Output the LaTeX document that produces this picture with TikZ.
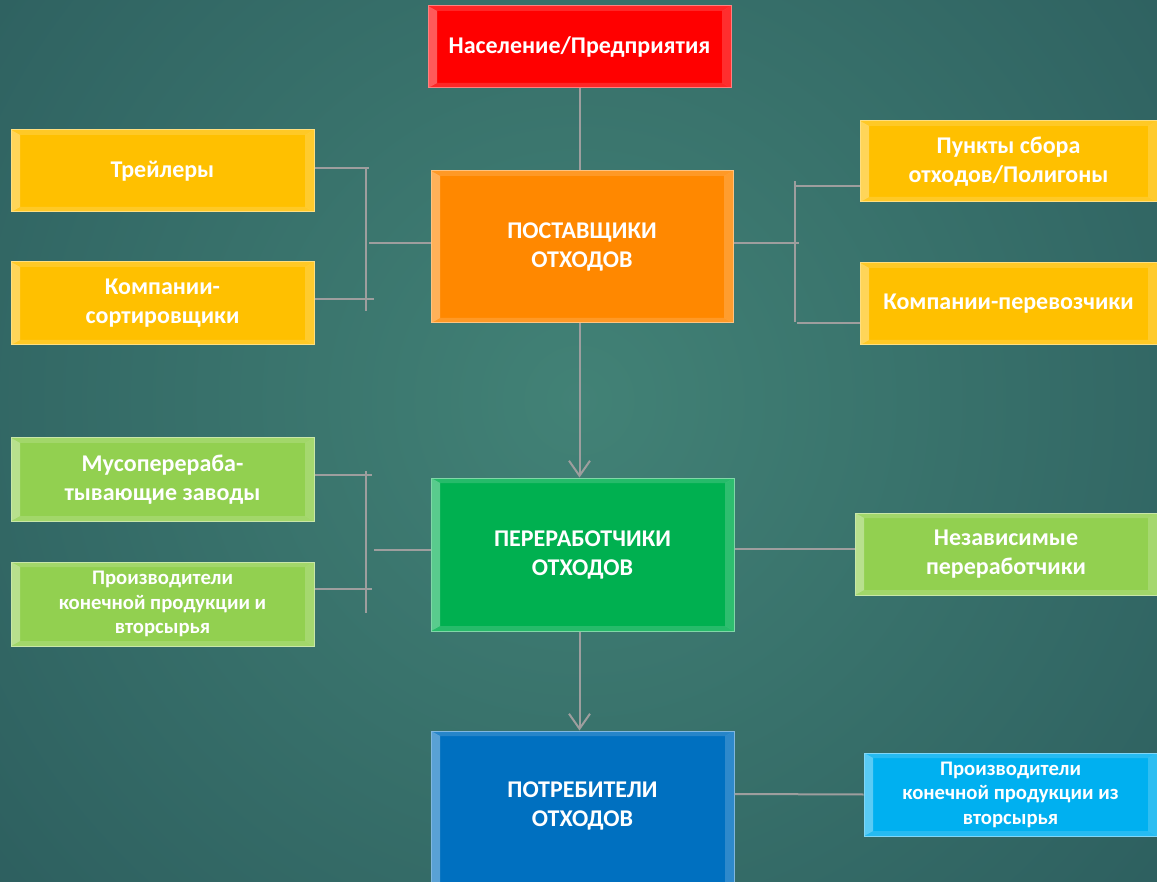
\documentclass[tikz,border=0pt]{standalone}
\usepackage{fontspec}
\setmainfont{Carlito}
\usetikzlibrary{arrows.meta}

\definecolor{bgin}{RGB}{66,130,118}
\definecolor{bgout}{RGB}{28,66,76}
\definecolor{linkgray}{RGB}{158,158,158}
\definecolor{cred}{RGB}{255,0,0}
\definecolor{corange}{RGB}{255,136,0}
\definecolor{cyellow}{RGB}{255,192,0}
\definecolor{cgreen}{RGB}{0,176,80}
\definecolor{clgreen}{RGB}{146,208,80}
\definecolor{cblue}{RGB}{0,112,192}
\definecolor{clblue}{RGB}{0,176,240}

\tikzset{
  blk/.style={draw=#1!50!white, line width=1pt, fill=#1, text=white,
    font=\fontsize{24}{29}\selectfont\bfseries, align=center, inner sep=0pt,
    path picture={
      % left bevel
      \fill[white,opacity=.35]
        (path picture bounding box.south west) -- (path picture bounding box.north west)
        -- ([shift={(9pt,-5pt)}]path picture bounding box.north west)
        -- ([shift={(9pt,5pt)}]path picture bounding box.south west) -- cycle;
      % right bevel
      \fill[white,opacity=.18]
        (path picture bounding box.south east) -- (path picture bounding box.north east)
        -- ([shift={(-9pt,-5pt)}]path picture bounding box.north east)
        -- ([shift={(-9pt,5pt)}]path picture bounding box.south east) -- cycle;
      % top and bottom bevel
      \fill[white,opacity=.15]
        (path picture bounding box.north west) -- (path picture bounding box.north east)
        -- ([shift={(-9pt,-5pt)}]path picture bounding box.north east)
        -- ([shift={(9pt,-5pt)}]path picture bounding box.north west) -- cycle;
      \fill[white,opacity=.15]
        (path picture bounding box.south west) -- (path picture bounding box.south east)
        -- ([shift={(-9pt,5pt)}]path picture bounding box.south east)
        -- ([shift={(9pt,5pt)}]path picture bounding box.south west) -- cycle;
    }},
  small/.style={font=\fontsize{20.7}{24.5}\selectfont\bfseries},
  link/.style={draw=linkgray, line width=2pt},
  arr/.style={link, -{Straight Barb[length=15pt,width=21pt,line width=2pt]}},
}

\begin{document}
\begin{tikzpicture}[x=1pt,y=-1pt]
  \useasboundingbox (0,0) rectangle (1157,882);
  \clip (0,0) rectangle (1157,882);
  % background
  \shade[inner color=bgin, outer color=bgout] (579,400) circle (1400);

  % main column
  \node[blk=cred, minimum width=303, minimum height=82] (pop) at (579.5,47) {Население/Предприятия};
  \node[blk=corange, minimum width=302, minimum height=152] (post) at (582,247) {ПОСТАВЩИКИ\\ОТХОДОВ};
  \node[blk=cgreen, minimum width=303, minimum height=153] (rec) at (582.5,554.5) {ПЕРЕРАБОТЧИКИ\\ОТХОДОВ};
  \node[blk=cblue, minimum width=303, minimum height=165] (cns) at (582.5,813.5) {};
  \node[text=white, font=\fontsize{24}{29}\selectfont\bfseries, align=center] (cnst) at (582.5,806) {ПОТРЕБИТЕЛИ\\ОТХОДОВ};

  % suppliers
  \node[blk=cyellow, minimum width=303, minimum height=82] (trl) at (162.5,171) {Трейлеры};
  \node[blk=cyellow, minimum width=303, minimum height=83] (srt) at (162.5,303.5) {Компании-\\сортировщики};
  \node[blk=cyellow, minimum width=297, minimum height=81] (pnk) at (1008.5,161.5) {Пункты сбора\\отходов/Полигоны};
  \node[blk=cyellow, minimum width=297, minimum height=82] (prv) at (1008.5,304) {Компании-перевозчики};

  % processors
  \node[blk=clgreen, minimum width=303, minimum height=83] (mus) at (162.5,479.5) {Мусоперераба-\\тывающие заводы};
  \node[blk=clgreen, small, minimum width=303, minimum height=84] (prd) at (162.5,604) {Производители\\конечной продукции и\\вторсырья};
  \node[blk=clgreen, minimum width=302, minimum height=82] (ind) at (1006,554) {Независимые\\переработчики};

  % consumers
  \node[blk=clblue, small, minimum width=293, minimum height=83] (fin) at (1010.5,794.5) {Производители\\конечной продукции из\\вторсырья};

  % vertical flow
  \draw[link] (pop.south) -- (pop.south |- post.north);
  \draw[arr] (pop.south |- post.south) -- (pop.south |- rec.north);
  \draw[arr] (pop.south |- rec.south) -- (pop.south |- cns.north);

  % bracket left top
  \coordinate (lsA) at (366,0);
  \draw[link] (lsA |- 0,168) -- (lsA |- 0,311);
  \draw[link] (trl.east |- 0,168) -- ++(54,0);
  \draw[link] (srt.east |- 0,299) -- ++(59,0);
  \draw[link] (369,243) -- (post.west |- 0,243);

  % bracket right top
  \coordinate (rsA) at (795,0);
  \draw[link] (rsA |- 0,181) -- (rsA |- 0,322);
  \draw[link] (796,186) -- (pnk.west |- 0,186);
  \draw[link] (797,323) -- (prv.west |- 0,323);
  \draw[link] (post.east |- 0,243) -- (799,243);

  % bracket left middle
  \coordinate (lsB) at (366,0);
  \draw[link] (lsB |- 0,471) -- (lsB |- 0,613);
  \draw[link] (mus.east |- 0,475) -- (372,475);
  \draw[link] (prd.east |- 0,589) -- (372,589);
  \draw[link] (374,550) -- (rec.west |- 0,550);

  % right side links
  \draw[link] (rec.east |- 0,549) -- (ind.west |- 0,549);
  \draw[link] (cns.east |- 0,794) -- (fin.west);
\end{tikzpicture}
\end{document}
